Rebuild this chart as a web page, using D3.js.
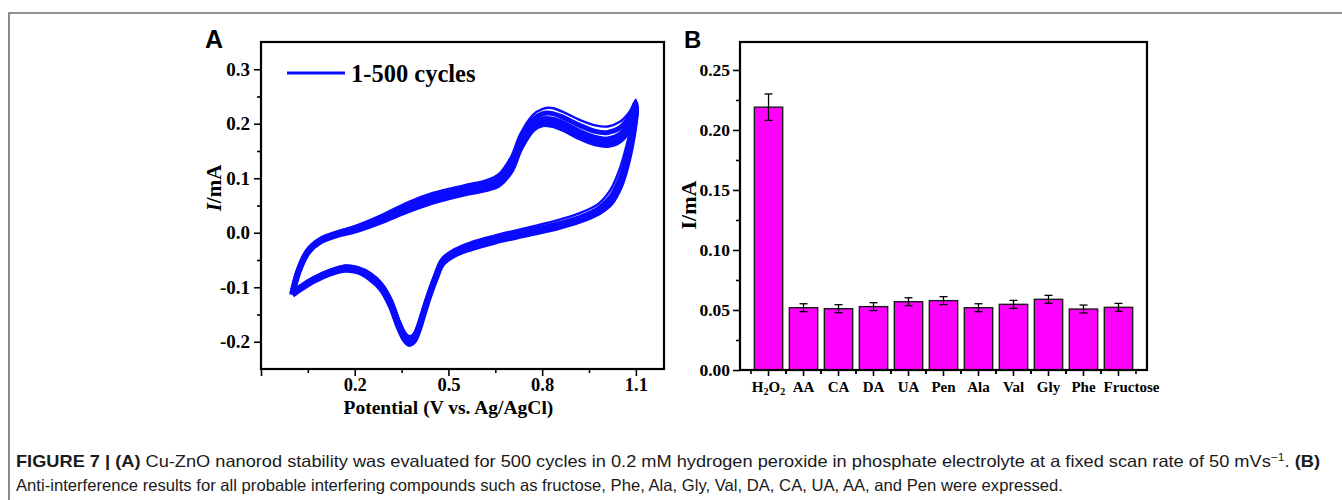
<!DOCTYPE html>
<html><head><meta charset="utf-8">
<script src="https://cdn.jsdelivr.net/npm/d3@7"></script>
<style>
body{margin:0;background:#fff;}
svg{display:block;}
</style></head><body>
<svg id="fig" width="1342" height="500"></svg>
<script>
// ---------- Panel A: cyclic voltammograms (V vs. Ag/AgCl, mA) ----------
const anodicV   = [0.00, 0.02, 0.05, 0.09, 0.15, 0.20, 0.28, 0.37, 0.45, 0.55, 0.62, 0.66, 0.70, 0.73, 0.77, 0.80, 0.83, 0.87, 0.92, 0.97, 1.01, 1.05, 1.08, 1.10];
const cathodicV = [1.10, 1.095, 1.085, 1.07, 1.05, 1.02, 0.98, 0.92, 0.85, 0.75, 0.65, 0.57, 0.52, 0.48, 0.46, 0.44, 0.42, 0.405, 0.39, 0.375, 0.36, 0.34, 0.315, 0.285, 0.25, 0.21, 0.17, 0.12, 0.07, 0.03, 0.00];

const cycle1Anodic   = [-0.110, -0.066, -0.030, -0.010, 0.003, 0.012, 0.031, 0.056, 0.073, 0.087, 0.096, 0.107, 0.139, 0.181, 0.216, 0.227, 0.229, 0.221, 0.207, 0.197, 0.195, 0.204, 0.222, 0.244];
const cycle2Anodic   = [-0.111, -0.068, -0.032, -0.012, 0.001, 0.009, 0.027, 0.050, 0.067, 0.081, 0.090, 0.100, 0.130, 0.172, 0.207, 0.218, 0.219, 0.211, 0.197, 0.186, 0.184, 0.193, 0.213, 0.238];
const cycle250Anodic = [-0.112, -0.070, -0.034, -0.014, -0.001, 0.007, 0.024, 0.046, 0.062, 0.077, 0.085, 0.094, 0.122, 0.163, 0.198, 0.208, 0.208, 0.200, 0.185, 0.174, 0.171, 0.180, 0.201, 0.231];
const cycle500Anodic = [-0.114, -0.072, -0.036, -0.016, -0.003, 0.004, 0.020, 0.041, 0.057, 0.072, 0.080, 0.088, 0.114, 0.155, 0.190, 0.199, 0.198, 0.190, 0.175, 0.164, 0.161, 0.170, 0.192, 0.226];

const cycle1Cathodic   = [0.244, 0.225, 0.195, 0.160, 0.120, 0.080, 0.053, 0.036, 0.023, 0.009, -0.005, -0.018, -0.030, -0.047, -0.073, -0.104, -0.139, -0.166, -0.185, -0.190, -0.182, -0.158, -0.120, -0.092, -0.074, -0.063, -0.060, -0.068, -0.081, -0.095, -0.110];
const cycle2Cathodic   = [0.238, 0.208, 0.176, 0.138, 0.100, 0.066, 0.044, 0.028, 0.016, 0.003, -0.010, -0.023, -0.034, -0.051, -0.077, -0.108, -0.143, -0.170, -0.189, -0.195, -0.187, -0.163, -0.125, -0.096, -0.077, -0.066, -0.063, -0.071, -0.084, -0.098, -0.111];
const cycle250Cathodic = [0.231, 0.200, 0.168, 0.130, 0.093, 0.060, 0.040, 0.025, 0.013, 0.000, -0.013, -0.026, -0.037, -0.054, -0.080, -0.111, -0.146, -0.174, -0.193, -0.199, -0.191, -0.167, -0.129, -0.099, -0.080, -0.068, -0.065, -0.073, -0.086, -0.100, -0.112];
const cycle500Cathodic = [0.226, 0.195, 0.160, 0.122, 0.086, 0.055, 0.037, 0.022, 0.010, -0.003, -0.016, -0.029, -0.040, -0.057, -0.083, -0.114, -0.150, -0.178, -0.198, -0.204, -0.196, -0.172, -0.134, -0.103, -0.084, -0.071, -0.068, -0.075, -0.088, -0.102, -0.114];

const cvXMajor = [-0.1, 0.2, 0.5, 0.8, 1.1];
const cvXMinor = [0.05, 0.35, 0.65, 0.95];
const cvYMajor = [-0.2, -0.1, 0.0, 0.1, 0.2, 0.3];
const cvYMinor = [-0.15, -0.05, 0.05, 0.15, 0.25];
const cvLegend = "1-500 cycles";

// ---------- Panel B: anti-interference currents (mA) ----------
const analytes     = ["H2O2", "AA", "CA", "DA", "UA", "Pen", "Ala", "Val", "Gly", "Phe", "Fructose"];
const currents     = [0.219, 0.0519, 0.0511, 0.0528, 0.0569, 0.0578, 0.0519, 0.0547, 0.0589, 0.0508, 0.0522];
const currentErrs  = [0.011, 0.0033, 0.0033, 0.0033, 0.0033, 0.0033, 0.0033, 0.0033, 0.0033, 0.0033, 0.0033];
const barYMajor = [0.00, 0.05, 0.10, 0.15, 0.20, 0.25];
const barYMinor = [0.025, 0.075, 0.125, 0.175, 0.225];

const svg = d3.select("#fig");
const SERIF = "'Liberation Serif','Times New Roman',serif";
const SANS = "'Liberation Sans',Arial,sans-serif";
const BLUE = "#0a0aff";

// outer figure frame (top and left rules)
svg.append("path").attr("d", "M9,500 V13 H1342")
  .attr("fill", "none").attr("stroke", "#6f6f6f").attr("stroke-width", 1.6);

const hyphen = s => s.replace("\u2212", "-");

function styleAxis(g, fontSize) {
  g.select(".domain").remove();
  g.selectAll(".tick line").attr("stroke", "#000").attr("stroke-width", 1.6);
  g.selectAll(".tick text").attr("fill", "#000")
    .style("font-family", SERIF).style("font-weight", "bold").style("font-size", fontSize + "px");
}

// ================= Panel A =================
const A = {left: 261, right: 664, top: 42, bottom: 369};
const xA = d3.scaleLinear().domain([-0.1, 1.19]).range([A.left, A.right]);
const yA = d3.scaleLinear().domain([-0.25, 0.35]).range([A.bottom, A.top]);

const gA = svg.append("g");

const cycles = [
  {an: cycle500Anodic, ca: cycle500Cathodic, w: 6},
  {an: cycle250Anodic, ca: cycle250Cathodic, w: 6},
  {an: cycle2Anodic,   ca: cycle2Cathodic,   w: 5},
  {an: cycle1Anodic,   ca: cycle1Cathodic,   w: 2.4}
];
const cvLine = d3.line().x(d => xA(d[0])).y(d => yA(d[1])).curve(d3.curveCatmullRom.alpha(0.5));
cycles.forEach(c => {
  const pts = anodicV.map((v, i) => [v, c.an[i]])
    .concat(cathodicV.slice(1).map((v, i) => [v, c.ca[i + 1]]));
  gA.append("path").attr("d", cvLine(pts)).attr("fill", "none")
    .attr("stroke", BLUE).attr("stroke-width", c.w).attr("stroke-linejoin", "round");
});

gA.append("rect").attr("x", A.left).attr("y", A.top)
  .attr("width", A.right - A.left).attr("height", A.bottom - A.top)
  .attr("fill", "none").attr("stroke", "#000").attr("stroke-width", 2.2);

const axAx = gA.append("g").attr("transform", `translate(0,${A.bottom})`)
  .call(d3.axisBottom(xA).tickValues(cvXMajor).tickSize(7).tickPadding(2)
    .tickFormat(d => d < 0 ? "" : d3.format(".1f")(d)));
styleAxis(axAx, 18.5);
const axAxm = gA.append("g").attr("transform", `translate(0,${A.bottom})`)
  .call(d3.axisBottom(xA).tickValues(cvXMinor).tickSize(4).tickFormat(""));
styleAxis(axAxm, 18.5);

const axAy = gA.append("g").attr("transform", `translate(${A.left},0)`)
  .call(d3.axisLeft(yA).tickValues(cvYMajor).tickSize(7).tickPadding(4)
    .tickFormat(d => hyphen(d3.format(".1f")(d))));
styleAxis(axAy, 19);
const axAym = gA.append("g").attr("transform", `translate(${A.left},0)`)
  .call(d3.axisLeft(yA).tickValues(cvYMinor).tickSize(4).tickFormat(""));
styleAxis(axAym, 19);

// legend
gA.append("line").attr("x1", 287).attr("x2", 345).attr("y1", 73).attr("y2", 73)
  .attr("stroke", BLUE).attr("stroke-width", 3);
gA.append("text").attr("x", 351).attr("y", 81.5).text(cvLegend)
  .style("font-family", SERIF).style("font-weight", "bold").style("font-size", "24.5px");

// axis titles
gA.append("text").attr("x", (xA(0.2) + xA(0.8)) / 2).attr("y", 414).attr("text-anchor", "middle")
  .style("font-family", SERIF).style("font-weight", "bold").style("font-size", "19.5px")
  .text("Potential (V vs. Ag/AgCl)");
const yTitleA = gA.append("text").attr("transform", "translate(221,188) rotate(-90)")
  .attr("text-anchor", "middle")
  .style("font-family", SERIF).style("font-weight", "bold").style("font-size", "21px");
yTitleA.append("tspan").style("font-style", "italic").text("I");
yTitleA.append("tspan").text("/mA");

svg.append("text").attr("x", 205).attr("y", 48).text("A")
  .style("font-family", SANS).style("font-weight", "bold").style("font-size", "25px");

// ================= Panel B =================
const B = {left: 740, right: 1147, top: 42, bottom: 370};
const xB = d3.scaleBand().domain(analytes).range([B.left, B.right]).paddingInner(0.19).paddingOuter(0.41);
const yB = d3.scaleLinear().domain([0, 0.2733]).range([B.bottom, B.top]);
const gB = svg.append("g");

gB.selectAll("rect.bar").data(analytes).join("rect").attr("class", "bar")
  .attr("x", d => xB(d)).attr("width", xB.bandwidth())
  .attr("y", (d, i) => yB(currents[i])).attr("height", (d, i) => yB(0) - yB(currents[i]))
  .attr("fill", "#ff00ff").attr("stroke", "#1a1a1a").attr("stroke-width", 1.4);

const errG = gB.selectAll("g.err").data(analytes).join("g").attr("class", "err")
  .attr("stroke", "#000").attr("stroke-width", 1.3);
errG.append("line")
  .attr("x1", d => xB(d) + xB.bandwidth() / 2).attr("x2", d => xB(d) + xB.bandwidth() / 2)
  .attr("y1", (d, i) => yB(currents[i] + currentErrs[i])).attr("y2", (d, i) => yB(currents[i] - currentErrs[i]));
[1, -1].forEach(s => {
  errG.append("line")
    .attr("x1", d => xB(d) + xB.bandwidth() / 2 - 4).attr("x2", d => xB(d) + xB.bandwidth() / 2 + 4)
    .attr("y1", (d, i) => yB(currents[i] + s * currentErrs[i])).attr("y2", (d, i) => yB(currents[i] + s * currentErrs[i]));
});

gB.append("rect").attr("x", B.left).attr("y", B.top)
  .attr("width", B.right - B.left).attr("height", B.bottom - B.top)
  .attr("fill", "none").attr("stroke", "#000").attr("stroke-width", 2.2);

const axBy = gB.append("g").attr("transform", `translate(${B.left},0)`)
  .call(d3.axisLeft(yB).tickValues(barYMajor).tickSize(7).tickPadding(3).tickFormat(d3.format(".2f")));
styleAxis(axBy, 17.5);
const axBym = gB.append("g").attr("transform", `translate(${B.left},0)`)
  .call(d3.axisLeft(yB).tickValues(barYMinor).tickSize(4).tickFormat(""));
styleAxis(axBym, 17.5);

// category ticks: long at bar centres, short at band edges
const step = xB.step();
const axBx = gB.append("g").attr("stroke", "#000").attr("stroke-width", 1.6);
analytes.forEach(d => {
  const cx = xB(d) + xB.bandwidth() / 2;
  axBx.append("line").attr("x1", cx).attr("x2", cx).attr("y1", B.bottom).attr("y2", B.bottom + 6);
  [-1, 1].forEach(s => axBx.append("line").attr("x1", cx + s * step / 2).attr("x2", cx + s * step / 2)
    .attr("y1", B.bottom).attr("y2", B.bottom + 4));
});

const catLabels = gB.selectAll("text.cat").data(analytes).join("text").attr("class", "cat")
  .attr("x", d => xB(d) + xB.bandwidth() / 2 + (d === "Fructose" ? 13 : 0))
  .attr("y", 392).attr("text-anchor", "middle")
  .style("font-family", SERIF).style("font-weight", "bold").style("font-size", "15px");
catLabels.each(function (d) {
  const t = d3.select(this);
  if (d === "H2O2") {
    t.append("tspan").text("H");
    t.append("tspan").attr("dy", 3).style("font-size", "10px").text("2");
    t.append("tspan").attr("dy", -3).text("O");
    t.append("tspan").attr("dy", 3).style("font-size", "10px").text("2");
  } else {
    t.text(d);
  }
});

gB.append("text").attr("transform", "translate(696,205) rotate(-90)").attr("text-anchor", "middle")
  .style("font-family", SERIF).style("font-weight", "bold").style("font-size", "22px").text("I/mA");

svg.append("text").attr("x", 684).attr("y", 48).text("B")
  .style("font-family", SANS).style("font-weight", "bold").style("font-size", "24px");

// ================= Caption =================
const capFont = "'Liberation Sans Narrow','Liberation Sans',Arial,sans-serif";
const cap1 = svg.append("text").attr("x", 16).attr("y", 467)
  .attr("textLength", 1304).attr("lengthAdjust", "spacingAndGlyphs")
  .style("font-family", capFont).style("font-size", "16.5px").attr("fill", "#1a1a1a");
cap1.append("tspan").style("font-weight", "bold").text("FIGURE 7 | (A)");
cap1.append("tspan").text(" Cu-ZnO nanorod stability was evaluated for 500 cycles in 0.2 mM hydrogen peroxide in phosphate electrolyte at a fixed scan rate of 50 mVs");
cap1.append("tspan").attr("dy", -6).style("font-size", "11px").text("\u22121");
cap1.append("tspan").attr("dy", 6).text(". ");
cap1.append("tspan").style("font-weight", "bold").text("(B)");

svg.append("text").attr("x", 16).attr("y", 491)
  .attr("textLength", 1047).attr("lengthAdjust", "spacingAndGlyphs")
  .style("font-family", capFont).style("font-size", "16.5px").attr("fill", "#1a1a1a")
  .text("Anti-interference results for all probable interfering compounds such as fructose, Phe, Ala, Gly, Val, DA, CA, UA, AA, and Pen were expressed.");
</script>
</body></html>
